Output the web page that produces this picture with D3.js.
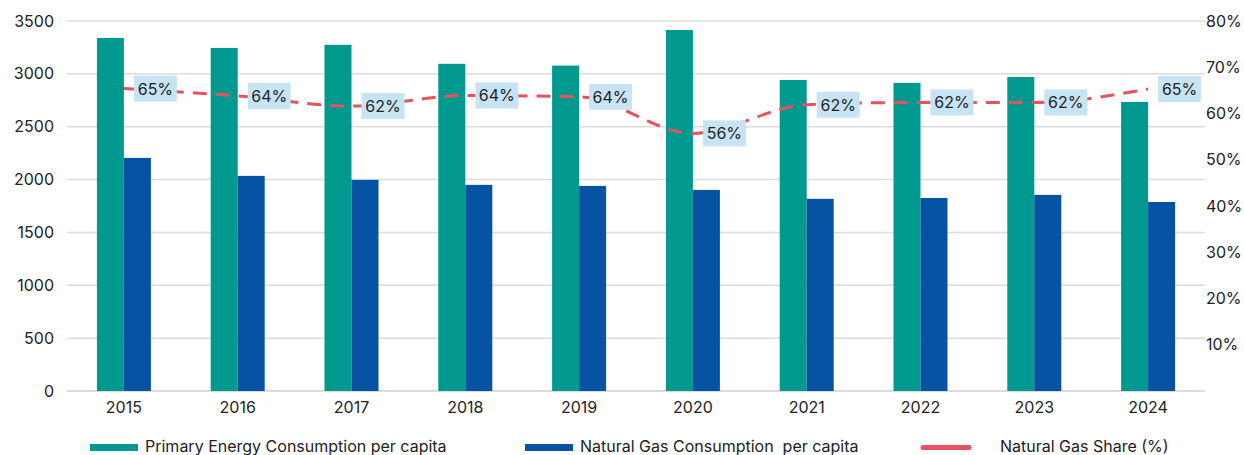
<!DOCTYPE html>
<html><head><meta charset="utf-8">
<script src="https://cdn.jsdelivr.net/npm/d3@7"></script>
<style>body{margin:0;background:#fff}svg{display:block}text{font-family:Inter,"Open Sans",sans-serif;fill:#222;white-space:pre}</style>
</head><body><svg id="c" width="1244" height="455"></svg>
<script>
const years = ["2015","2016","2017","2018","2019","2020","2021","2022","2023","2024"];
const primary = [3340, 3245, 3275, 3095, 3078, 3415, 2942, 2915, 2970, 2735];
const gas = [2205, 2035, 1997, 1950, 1940, 1902, 1818, 1826, 1855, 1788];
const share = [65.4, 63.8, 61.6, 63.9, 63.6, 55.7, 61.9, 62.4, 62.4, 65.3];
const leftTicks = [0,500,1000,1500,2000,2500,3000,3500];
const rightTicks = [10,20,30,40,50,60,70,80];
const seriesNames = ["Primary Energy Consumption per capita","Natural Gas Consumption  per capita","Natural Gas Share (%)"];
const colors = {teal:"#00998f", blue:"#0652a3", red:"#e8525e", grid:"#dcdcdc", label:"#c6e4f4"};

const svg = d3.select("#c");
const L=67, R=1205, T=21, B=391, BW=27;
const x = d3.scaleBand().domain(years).range([L,R]).paddingInner(0).paddingOuter(0);
const mid = x.bandwidth()/2;
const xi = d3.scaleBand().domain(["p","g"]).range([mid-BW, mid+BW]);
const y = d3.scaleLinear().domain([0,3500]).range([B,T]);
const y2 = d3.scaleLinear().domain([0,80]).range([B,T]);

// grid
svg.append("g").selectAll("line").data(leftTicks).join("line")
  .attr("x1",L).attr("x2",R).attr("y1",d=>y(d)).attr("y2",d=>y(d))
  .attr("stroke",colors.grid).attr("stroke-width",d=>d===0?2:1.5);

// left axis
const la = svg.append("g").attr("transform",`translate(${L-13},0)`)
  .call(d3.axisLeft(y).tickValues(leftTicks).tickSize(0).tickPadding(0).tickFormat(d3.format("d")));
la.select(".domain").remove();
la.selectAll("text").style("font-size","16px").attr("fill","#222");

// right axis
const ra = svg.append("g").attr("transform",`translate(${R+1},0)`)
  .call(d3.axisRight(y2).tickValues(rightTicks).tickSize(0).tickPadding(0).tickFormat(d=>d+"%"));
ra.select(".domain").remove();
ra.selectAll("text").style("font-size","16px").attr("fill","#222");

// bottom axis
const ba = svg.append("g").attr("transform",`translate(0,${B})`)
  .call(d3.axisBottom(x).tickSize(0).tickPadding(11));
ba.select(".domain").remove();
ba.selectAll("text").style("font-size","16px").attr("fill","#222");

// bars
const g = svg.append("g");
g.selectAll(".p").data(years).join("rect").attr("class","p")
  .attr("x",d=>x(d)+xi("p")).attr("width",xi.bandwidth())
  .attr("y",(d,i)=>y(primary[i])).attr("height",(d,i)=>B-y(primary[i]))
  .attr("fill",colors.teal);
g.selectAll(".g").data(years).join("rect").attr("class","g")
  .attr("x",d=>x(d)+xi("g")).attr("width",xi.bandwidth())
  .attr("y",(d,i)=>y(gas[i])).attr("height",(d,i)=>B-y(gas[i]))
  .attr("fill",colors.blue);

// line
const cx = d=>x(d)+mid;
const line = d3.line().x((d,i)=>cx(years[i])).y(d=>y2(d)).curve(d3.curveMonotoneX);
svg.append("path").datum(share).attr("d",line).attr("fill","none")
  .attr("stroke",colors.red).attr("stroke-width",3).attr("stroke-dasharray","14,9");

// labels
const lg = svg.append("g").selectAll("g").data(share).join("g")
  .attr("transform",(d,i)=>`translate(${cx(years[i])+10},${y2(d)})`);
lg.append("rect").attr("x",0).attr("y",-13).attr("width",43).attr("height",26).attr("fill",colors.label);
lg.append("text").attr("x",21.5).attr("y",6).attr("text-anchor","middle").style("font-size","16px")
  .text(d=>Math.round(d)+"%");

// legend
const leg = svg.append("g");
const fs = "16px";
leg.append("rect").attr("x",90).attr("y",444).attr("width",48).attr("height",7).attr("fill",colors.teal);
leg.append("text").attr("x",145).attr("y",452).style("font-size",fs).text(seriesNames[0]);
leg.append("rect").attr("x",525).attr("y",444).attr("width",48).attr("height",7).attr("fill",colors.blue);
leg.append("text").attr("x",580).attr("y",452).style("font-size",fs).text(seriesNames[1]);
leg.append("line").attr("x1",923).attr("x2",969).attr("y1",447.5).attr("y2",447.5)
  .attr("stroke",colors.red).attr("stroke-width",5).attr("stroke-linecap","round");
leg.append("text").attr("x",1000).attr("y",452).style("font-size",fs).text(seriesNames[2]);
</script></body></html>
